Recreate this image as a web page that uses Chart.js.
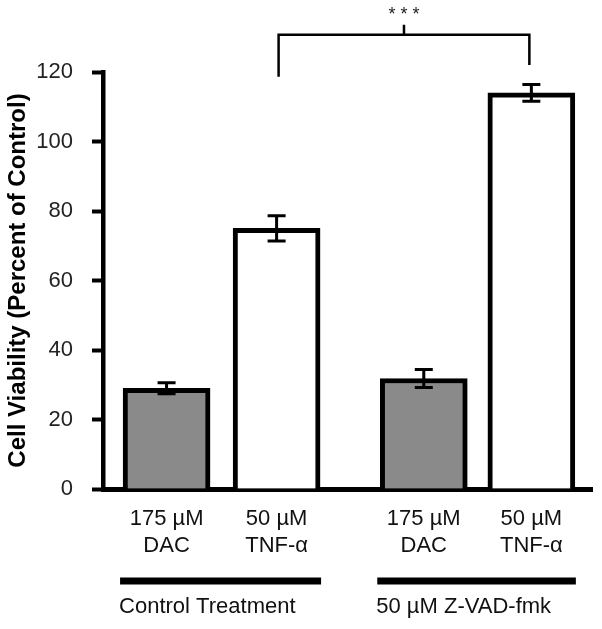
<!DOCTYPE html>
<html>
<head>
<meta charset="utf-8">
<script src="https://cdn.jsdelivr.net/npm/chart.js@4.4.1/dist/chart.umd.min.js"></script>
<style>
  body { margin: 0; background: #fff; }
</style>
</head>
<body>
<canvas id="chart" width="602" height="629"></canvas>
<script>
const categories = [['175 µM', 'DAC'], ['50 µM', 'TNF-α'], ['175 µM', 'DAC'], ['50 µM', 'TNF-α']];
const viability = [29, 75, 31.8, 114];
const errors = [1.6, 3.6, 2.6, 2.4];
const groups = ['Control Treatment', '50 µM Z-VAD-fmk'];
const yTicks = [0, 20, 40, 60, 80, 100, 120];
const significance = '* * *';

// where each bar sits along the x axis (percent of plot width)
const barPos = [13, 35.5, 65.6, 87.6];
const fillColors = ['#8a8a8a', '#ffffff', '#8a8a8a', '#ffffff'];
const FONT = '"Liberation Sans", Arial, sans-serif';

const extras = {
    id: 'extras',
    afterDatasetsDraw(chart) {
        const ctx = chart.ctx;
        const y = chart.scales.y;
        const bars = chart.getDatasetMeta(0).data;

        // error bars
        ctx.save();
        ctx.strokeStyle = '#000';
        ctx.lineWidth = 3;
        bars.forEach((b, i) => {
            const top = y.getPixelForValue(viability[i] + errors[i]);
            const bot = y.getPixelForValue(viability[i] - errors[i]);
            ctx.beginPath();
            ctx.moveTo(b.x, top);
            ctx.lineTo(b.x, bot);
            ctx.moveTo(b.x - 9, top);
            ctx.lineTo(b.x + 9, top);
            ctx.moveTo(b.x - 9, bot);
            ctx.lineTo(b.x + 9, bot);
            ctx.stroke();
        });

        // significance bracket between the two TNF-α bars
        const left = bars[1].x + 2, right = bars[3].x - 2;
        const top = y.getPixelForValue(130.7);
        const mid = (left + right) / 2;
        ctx.lineWidth = 2.5;
        ctx.beginPath();
        ctx.moveTo(left, y.getPixelForValue(118.6));
        ctx.lineTo(left, top);
        ctx.lineTo(right, top);
        ctx.lineTo(right, y.getPixelForValue(122));
        ctx.moveTo(mid, top);
        ctx.lineTo(mid, y.getPixelForValue(133.6));
        ctx.stroke();
        ctx.fillStyle = '#222';
        ctx.font = '18px ' + FONT;
        ctx.textAlign = 'center';
        ctx.textBaseline = 'alphabetic';
        ctx.fillText(significance, mid, 20);

        // group lines and labels under the axis
        ctx.lineWidth = 7;
        ctx.fillStyle = '#111';
        ctx.font = '22px ' + FONT;
        ctx.textAlign = 'left';
        ctx.textBaseline = 'middle';
        groups.forEach((g, k) => {
            const a = bars[k * 2], b = bars[k * 2 + 1];
            const x0 = a.x - a.width / 2 - 3;
            const x1 = b.x + b.width / 2 + 1;
            ctx.beginPath();
            ctx.moveTo(x0, 581);
            ctx.lineTo(x1, 581);
            ctx.stroke();
            ctx.fillText(g, x0 - 1, 607);
        });
        ctx.restore();
    }
};

new Chart(document.getElementById('chart'), {
    type: 'bar',
    data: {
        datasets: [{
            data: viability.map((v, i) => ({ x: barPos[i], y: v })),
            backgroundColor: fillColors,
            borderColor: '#000',
            borderWidth: 5,
            barThickness: 87
        }]
    },
    options: {
        responsive: false,
        animation: false,
        layout: { padding: { left: 0, top: 72, right: 10, bottom: 0 } },
        plugins: { legend: { display: false }, tooltip: { enabled: false } },
        scales: {
            x: {
                type: 'linear',
                offset: false,
                min: 0,
                max: 100,
                afterFit: s => { s.height = 140; },
                afterBuildTicks: s => { s.ticks = barPos.map(v => ({ value: v })); },
                grid: { display: false, drawTicks: false, offset: false },
                border: { display: true, color: '#000', width: 5 },
                ticks: {
                    autoSkip: false,
                    maxRotation: 0,
                    padding: 17,
                    color: '#111',
                    font: { family: FONT, size: 22 },
                    callback: (v, i) => categories[i]
                }
            },
            y: {
                min: 0,
                max: 120,
                afterFit: s => { s.width = 103; },
                afterBuildTicks: s => { s.ticks = yTicks.map(v => ({ value: v })); },
                grid: {
                    drawOnChartArea: false,
                    drawTicks: true,
                    tickLength: 11,
                    tickWidth: 4,
                    tickColor: '#000'
                },
                border: { display: true, color: '#000', width: 4.5 },
                ticks: {
                    padding: 19,
                    color: '#222',
                    font: { family: FONT, size: 22 }
                },
                title: {
                    display: true,
                    text: 'Cell Viability (Percent of Control)',
                    color: '#000',
                    font: { family: FONT, size: 24, weight: 'bold' },
                    padding: { top: 4, bottom: 4 }
                }
            }
        }
    },
    plugins: [extras]
});
</script>
</body>
</html>
